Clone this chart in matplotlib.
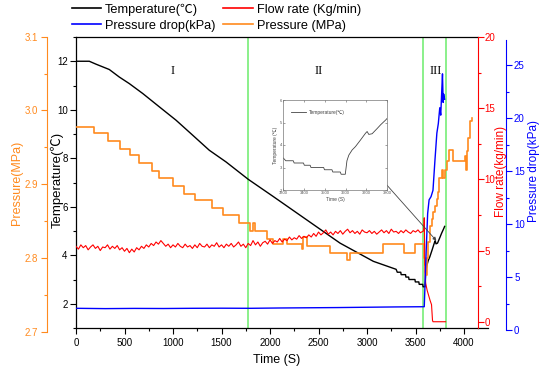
import matplotlib
matplotlib.use("Agg")
import matplotlib.pyplot as plt
from matplotlib.ticker import MultipleLocator, FormatStrFormatter
from matplotlib.lines import Line2D

plt.rcParams['font.family'] = ['Liberation Sans', 'Noto Sans CJK SC', 'DejaVu Sans']

# ---------------- data ----------------
temp_t = [0, 137, 206, 343, 446, 549, 688, 859, 1031, 1203, 1374, 1546, 1776, 2034,
          2378, 2722, 3065, 3300, 3312, 3348, 3352, 3397, 3401, 3429, 3433, 3494,
          3498, 3534, 3538, 3574, 3578, 3598, 3606, 3615, 3631, 3647, 3671, 3695,
          3703, 3711, 3727, 3752, 3768, 3792, 3800]
temp_v = [12.0, 12.0, 11.88, 11.66, 11.35, 11.08, 10.67, 10.12, 9.57, 8.95, 8.33, 7.85,
          7.13, 6.42, 5.46, 4.5, 3.75, 3.42, 3.3, 3.3, 3.2, 3.2, 3.1, 3.1, 3.0, 3.0,
          2.9, 2.9, 2.8, 2.8, 2.7, 2.7, 3.3, 3.55, 3.78, 3.93, 4.22, 4.52, 4.6, 4.47,
          4.5, 4.74, 4.9, 5.11, 5.19]

press_t = [0, 189, 326, 454, 560, 653, 784, 859, 1003, 1117, 1227, 1399, 1519, 1684,
           1794, 1828, 1845, 1966, 2034, 2137, 2172, 2330, 2345, 2380, 2619, 2790,
           2825, 3168, 3381, 3495, 3585, 3600, 3605, 3615, 3632, 3649, 3667, 3684,
           3701, 3718, 3735, 3745, 3770, 3787, 3804, 3822, 3840, 3873, 3890, 3993,
           4010, 4021, 4028, 4045, 4062, 4079]
press_v = [2.978, 2.970, 2.959, 2.948, 2.939, 2.929, 2.918, 2.908, 2.898, 2.887, 2.878,
           2.868, 2.858, 2.847, 2.837, 2.847, 2.837, 2.826, 2.819, 2.826, 2.819, 2.812,
           2.828, 2.816, 2.807, 2.797, 2.807, 2.819, 2.807, 2.819, 2.800, 2.790, 2.777,
           2.800, 2.821, 2.844, 2.853, 2.862, 2.871, 2.880, 2.890, 2.908, 2.919, 2.908,
           2.919, 2.931, 2.947, 2.947, 2.931, 2.931, 2.938, 2.919, 2.945, 2.963, 2.986,
           2.990]

flow_t = list(range(0, 3600, 25)) + [3585, 3590, 3597, 3605, 3620, 3650, 3665, 3675, 3680, 3810]
flow_v = [5.3, 5.1, 5.4, 5.2, 5.35, 5.05, 5.25, 5.4, 5.15, 5.3, 5.0, 5.25,
          5.2, 5.4, 5.1, 5.3, 5.15, 5.35, 5.05, 5.2, 4.95, 5.15, 4.85, 5.1,
          4.9, 5.2, 5.05, 5.3, 5.15, 5.4, 5.25, 5.5, 5.35, 5.6, 5.45, 5.7,
          5.5, 5.3, 5.45, 5.2, 5.4, 5.25, 5.5, 5.3, 5.2, 5.45, 5.25, 5.35,
          5.15, 5.4, 5.2, 5.5, 5.3, 5.25, 5.45, 5.2, 5.4, 5.3, 5.55, 5.25,
          5.4, 5.2, 5.45, 5.3, 5.5, 5.25, 5.4, 5.6, 5.3, 5.45, 5.2, 5.5,
          5.35, 5.7, 5.4, 5.6, 5.3, 5.55, 5.65, 5.45, 5.75, 5.5, 5.7, 5.6,
          5.85, 5.6, 5.8, 5.7, 5.95, 5.75, 5.9, 5.8, 6.05, 5.85, 6.0, 5.9,
          6.1, 5.95, 6.2, 6.0, 6.3, 6.1, 6.25, 6.45, 6.15, 6.3, 6.1, 6.35,
          6.2, 6.4, 6.15, 6.35, 6.5, 6.25, 6.4, 6.2, 6.35, 6.15, 6.45, 6.3,
          6.25, 6.4, 6.2, 6.35, 6.15, 6.3, 6.45, 6.25, 6.4, 6.2, 6.5, 6.3,
          6.35, 6.2, 6.4, 6.25, 6.45, 6.3, 6.2, 6.4, 6.3, 6.45, 6.25, 6.35,
          6.4, 7.3, 3.5, 2.7, 2.2, 1.5, 1.2, 0.1, 0.0, 0.0]

drop_t = [0, 300, 600, 900, 1200, 1500, 1800, 2100, 2400, 2700, 3000, 3300, 3590,
          3598, 3610, 3625, 3640, 3660, 3680, 3700, 3720, 3735, 3750, 3760, 3770,
          3778, 3785, 3790, 3800]
drop_v = [2.05, 2.02, 2.04, 2.03, 2.05, 2.06, 2.05, 2.08, 2.1, 2.12, 2.15, 2.18, 2.2,
          4.3, 7.5, 11.0, 12.3, 12.6, 13.2, 16.0, 18.6, 19.5, 21.0, 20.3, 22.5, 24.2,
          21.5, 22.3, 21.8]

phase_bounds = [1776, 3580, 3811]
phase_names = ["I", "II", "III"]
phase_label_t = [997, 2498, 3711]

C_ORANGE = '#FF8A1E'
C_RED = '#FF0000'
C_BLUE = '#0000FF'
C_GREEN = '#77EE77'

W, H = 550, 375
fig = plt.figure(figsize=(5.5, 3.75), dpi=100)
L, R, T, B = 76, 477.7, 37, 328
axw = R - L
XMAX = 4141


def px_axes(top, bottom, **kw):
    return fig.add_axes([L / W, (H - bottom) / H, axw / W, (bottom - top) / H], **kw)


ax = px_axes(T, B)
ax.set_xlim(0, XMAX)
ax.set_ylim(1, 13)

# orange pressure axis: spine runs 36.7..331.7 px
axP = px_axes(36.7, 331.7, sharex=ax)
axF = px_axes(T, B, sharex=ax)
# blue pressure drop axis: spine runs 40..330 px
axD = px_axes(40, 330, sharex=ax)

for a in (axP, axF, axD):
    a.patch.set_visible(False)
    a.xaxis.set_visible(False)
    for s in ['top', 'bottom', 'left', 'right']:
        a.spines[s].set_visible(False)

ax.spines['right'].set_visible(False)
for s in ['left', 'bottom', 'top']:
    ax.spines[s].set_linewidth(0.9)

axP.spines['left'].set_visible(True)
axP.spines['left'].set_position(('axes', -(L - 46.7) / axw))
axP.spines['left'].set_color(C_ORANGE)
axP.yaxis.set_ticks_position('left')

axF.spines['right'].set_visible(True)
axF.spines['right'].set_color(C_RED)
axF.yaxis.set_ticks_position('right')

axD.spines['right'].set_visible(True)
axD.spines['right'].set_position(('axes', (506 - L) / axw))
axD.spines['right'].set_color(C_BLUE)
axD.yaxis.set_ticks_position('right')

axP.set_ylim(2.7, 3.1)
axF.set_ylim(-0.44, 20)
axD.set_ylim(0, 27.4)
ax.set_xlim(0, XMAX)

# green phase boundaries
for xb in phase_bounds:
    ax.axvline(xb, color=C_GREEN, lw=1.2, zorder=1)
for name, tx in zip(phase_names, phase_label_t):
    ax.text(tx, 11.58, name, family='Liberation Serif', fontsize=9, ha='center', va='center')

# series
axP.plot(press_t, press_v, color=C_ORANGE, lw=1.2, drawstyle='steps-post')
ax.plot(temp_t, temp_v, color='black', lw=1.0, zorder=3)
axF.plot(flow_t, flow_v, color=C_RED, lw=0.8)
axD.plot(drop_t, drop_v, color=C_BLUE, lw=1.0)

# ticks
ax.xaxis.set_major_locator(MultipleLocator(500))
ax.xaxis.set_minor_locator(MultipleLocator(250))
ax.yaxis.set_major_locator(MultipleLocator(2))
ax.yaxis.set_minor_locator(MultipleLocator(1))
ax.tick_params(axis='both', which='major', direction='out', length=4, width=0.8, labelsize=7)
ax.tick_params(axis='both', which='minor', direction='out', length=2.5, width=0.8)
ax.tick_params(axis='x', top=False, which='both')
ax.tick_params(axis='y', which='major', pad=2.0)

axP.yaxis.set_major_locator(MultipleLocator(0.1))
axP.yaxis.set_minor_locator(MultipleLocator(0.05))
axP.tick_params(axis='y', which='major', direction='out', length=4, width=0.8, labelsize=7,
                colors=C_ORANGE, pad=2.2)
axP.tick_params(axis='y', which='minor', direction='out', length=2.5, width=0.8, colors=C_ORANGE)
axP.yaxis.set_major_formatter(FormatStrFormatter('%.1f'))

axF.yaxis.set_major_locator(MultipleLocator(5))
axF.yaxis.set_minor_locator(MultipleLocator(2.5))
axF.tick_params(axis='y', which='major', direction='out', length=4, width=0.8, labelsize=7,
                colors=C_RED, pad=1.0)
axF.tick_params(axis='y', which='minor', direction='out', length=2.5, width=0.8, colors=C_RED)

axD.yaxis.set_major_locator(MultipleLocator(5))
axD.yaxis.set_minor_locator(MultipleLocator(2.5))
axD.tick_params(axis='y', which='major', direction='out', length=4, width=0.8, labelsize=7,
                colors=C_BLUE, pad=1.8)
axD.tick_params(axis='y', which='minor', direction='out', length=2.5, width=0.8, colors=C_BLUE)

# bottom spine extension
ax.plot([1, 1 + (488 - R) / axw], [0, 0], transform=ax.transAxes, color='black',
        lw=0.9, clip_on=False)

# axis labels
ax.set_xlabel("Time (S)", fontsize=9, labelpad=4)
fig.text(57 / W, 1 - 180 / H, "Temperature(℃)", rotation=90, ha='center', va='center', fontsize=9.5)
fig.text(17 / W, 1 - 182.5 / H, "Pressure(MPa)", rotation=90, ha='center', va='center',
         fontsize=9, color=C_ORANGE)
fig.text(501 / W, 1 - 171 / H, "Flow rate(kg/min)", rotation=90, ha='center', va='center',
         fontsize=8.5, color=C_RED)
fig.text(534.5 / W, 1 - 171.5 / H, "Pressure drop(kPa)", rotation=90, ha='center', va='center',
         fontsize=8.5, color=C_BLUE)

# legend
handles = [Line2D([], [], color='black', lw=1.2), Line2D([], [], color=C_BLUE, lw=1.2),
           Line2D([], [], color=C_RED, lw=1.2), Line2D([], [], color=C_ORANGE, lw=1.2)]
labels = ["Temperature(℃)", "Pressure drop(kPa)", "Flow rate (Kg/min)", "Pressure (MPa)"]
fig.legend(handles, labels, ncol=2, loc='upper left', bbox_to_anchor=(72 / W, 1 - 3.5 / H),
           frameon=False, fontsize=9.2, handlelength=2.3, handletextpad=0.3,
           columnspacing=0.6, labelspacing=0.3, borderpad=0, borderaxespad=0)

# annotation arrow to the inset
axD.annotate('', xy=(3715, 4.6), xycoords=ax.transData,
             xytext=(361 / W, 1 - 156 / H), textcoords='figure fraction',
             arrowprops=dict(arrowstyle='-|>', color='#444444', lw=0.6,
                             mutation_scale=5, shrinkA=0, shrinkB=0))

# inset
axI = fig.add_axes([283.3 / W, (H - 190) / H, 104 / W, 90 / H])
axI.plot(temp_t, temp_v, color='#444444', lw=0.6, label="Temperature(℃)")
axI.set_xlim(3300, 3800)
axI.set_ylim(2, 6)
axI.xaxis.set_major_locator(MultipleLocator(100))
axI.yaxis.set_major_locator(MultipleLocator(1))
axI.tick_params(direction='in', length=1.5, width=0.4, labelsize=3, pad=1,
                top=True, right=True, colors='#555555')
for s in axI.spines.values():
    s.set_linewidth(0.5)
    s.set_color('#777777')
axI.set_xlabel("Time (S)", fontsize=3.5, labelpad=1, color='#444444')
axI.set_ylabel("Temperature (℃)", fontsize=3.5, labelpad=1, color='#444444')
axI.legend(loc='upper left', fontsize=3.5, frameon=False, handlelength=3,
           bbox_to_anchor=(0.05, 0.92), borderpad=0, labelcolor='#444444')

fig.savefig("out.png", dpi=100)
